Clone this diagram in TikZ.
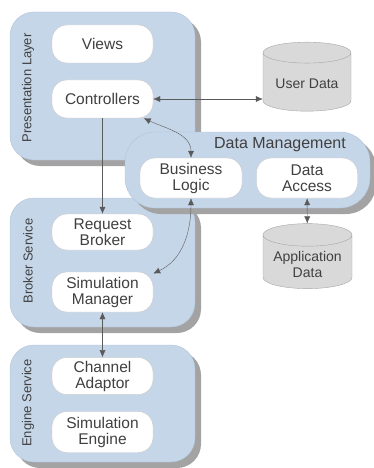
\documentclass[tikz,border=0pt]{standalone}
\usepackage{fontspec}
\setmainfont{Liberation Sans}
\usepackage{tikz}
\usetikzlibrary{arrows.meta,shapes.geometric,shadows}
\definecolor{panelblue}{HTML}{C6D6E9}
\definecolor{panelline}{HTML}{AFC3DA}
\definecolor{shadowgrey}{HTML}{A3A3A3}
\definecolor{boxline}{HTML}{C9C9C9}
\definecolor{storegrey}{HTML}{D9D9D9}
\definecolor{storeline}{HTML}{A6A6A6}
\definecolor{textgrey}{HTML}{404040}
\definecolor{linegrey}{HTML}{5A5A5A}

\begin{document}
\begin{tikzpicture}[x=1pt,y=-1pt]
\tikzset{layer/.style = {shape=rectangle,draw=panelline,fill=panelblue,rounded corners=24pt,
  drop shadow={shadow xshift=6pt,shadow yshift=-6pt,fill=shadowgrey,opacity=1}}}
\tikzset{part/.style = {shape=rectangle,draw=boxline,fill=white,rounded corners=15pt,
  minimum width=101pt,align=center,text=textgrey,font=\fontsize{15.5}{16}\selectfont}}
\tikzset{store/.style = {shape=cylinder,shape border rotate=90,aspect=0.3,draw=storeline,
  fill=storegrey,align=center,text=textgrey,font=\fontsize{14}{16}\selectfont}}
\tikzset{side/.style = {rotate=90,text=textgrey,font=\fontsize{13}{15}\selectfont}}
\tikzset{edge/.style = {draw=linegrey,> = {Latex[length=7pt,width=6pt]}}}
\useasboundingbox (0,0) rectangle (373,468);
% layers
\node[layer,minimum width=185pt,minimum height=148pt] (pres) at (102.5,86) {};
\node[layer,minimum width=185pt,minimum height=129pt] (brok) at (102.5,262.5) {};
\node[layer,minimum width=185pt,minimum height=117pt] (eng) at (102.5,403.5) {};
\node[layer,rounded corners=30pt,minimum width=245pt,minimum height=76pt] (dm) at (247.5,170) {};
\node[side] (preslab) at (28,88) {Presentation Layer};
\node[side] (broklab) at (28,261) {Broker Service};
\node[side] (englab) at (28,403) {Engine Service};
\node[text=textgrey,font=\fontsize{16}{16}\selectfont] (dmlab) at (280,145) {Data Management};
% parts
\node[part,minimum height=38pt] (views) at (102.5,44) {Views};
\node[part,minimum height=38pt] (ctrl) at (102.5,99) {Controllers};
\node[part,minimum height=36pt] (broker) at (102.5,232) {Request\\Broker};
\node[part,minimum height=40pt] (simman) at (102.5,292) {Simulation\\Manager};
\node[part,minimum height=37pt] (chan) at (102.5,376) {Channel\\Adaptor};
\node[part,minimum height=41pt] (simeng) at (102.5,432) {Simulation\\Engine};
\node[part,minimum height=40pt,minimum width=102pt] (logic) at (191,178) {Business\\Logic};
\node[part,minimum height=40pt] (access) at (307,178) {Data\\Access};
% stores
\node[store,minimum width=88pt,minimum height=69pt] (user) at (307,84) {User Data};
\node[store,minimum width=89pt,minimum height=65pt] (appdata) at (307.5,264) {Application\\Data};
%edges
\draw[edge,->] (ctrl) -- (broker);
\draw[edge,<->] (ctrl.east) -- (ctrl.east -| user.west);
\draw[edge,<->] (ctrl.-25) to[out=-25,in=90] (logic.north);
\draw[edge,<->] (logic.south) to[out=-90,in=25] (simman.20);
\draw[edge,<->] (access) -- (appdata);
\draw[edge,<->] (simman) -- (chan);
\end{tikzpicture}
\end{document}
